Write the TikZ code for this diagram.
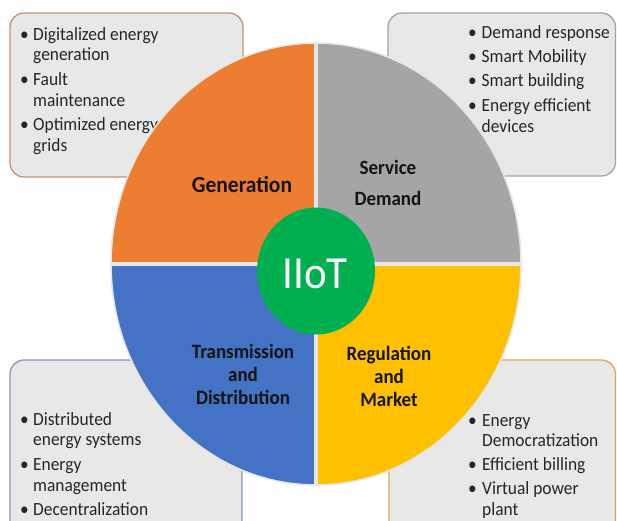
\documentclass[tikz,border=0pt]{standalone}
\usepackage{fontspec}
\setmainfont{Carlito}
\usepackage{array}
\usepackage{graphicx}
\definecolor{qorange}{HTML}{ED7D31}
\definecolor{qgray}{HTML}{A5A5A5}
\definecolor{qyellow}{HTML}{FFC000}
\definecolor{qblue}{HTML}{4472C4}
\definecolor{qgreen}{HTML}{00B050}
\definecolor{boxfill}{HTML}{E8E8E8}
\definecolor{bdorange}{HTML}{C9916B}
\definecolor{bdgray}{HTML}{A3A3A3}
\definecolor{bdblue}{HTML}{8496B5}
\definecolor{bdgold}{HTML}{D6AA4A}
\definecolor{divline}{HTML}{E6E6E6}
\definecolor{labeltext}{HTML}{141414}
\newcommand{\vstretch}[1]{\scalebox{1}[1.07]{#1}}
\begin{document}
\begin{tikzpicture}[x=1pt,y=-1pt,
  infobox/.style={draw, line width=1.3pt, fill=boxfill, rounded corners=14pt},
  quadrant/.style={draw=divline, line width=1.6pt},
  bullettext/.style={anchor=base west, inner sep=0pt, text=black!85,
    font=\fontsize{17.4}{19.6}\selectfont},
  quadlabel/.style={anchor=base, inner sep=0pt, text=labeltext,
    font=\fontsize{19}{21.5}\selectfont\bfseries}]
\useasboundingbox (0,0) rectangle (617,520);
% info boxes (behind the circle)
\draw[infobox, draw=bdorange] (10,13) rectangle (243,177);
\draw[infobox, draw=bdgray] (388,13) rectangle (615.5,176);
\draw[infobox, draw=bdblue] (10,360) rectangle (242,540);
\draw[infobox, draw=bdgold] (389,360) rectangle (615.5,540);
% bullet texts (the circle lies over them)
\node[bullettext] (tltext) at (20,40) {\vstretch{\begin{tabular}[t]{@{}p{13pt}@{}l@{}}
\textbullet & Digitalized energy\\ & generation\\[3pt]
\textbullet & Fault\\ & maintenance\\[3pt]
\textbullet & Optimized energy\\ & grids\end{tabular}}};
\node[bullettext] (trtext) at (468,38) {\vstretch{\begin{tabular}[t]{@{}p{13.5pt}@{}l@{}}
\textbullet & Demand response\\[3.2pt]
\textbullet & Smart Mobility\\[3.2pt]
\textbullet & Smart building\\[3.2pt]
\textbullet & Energy efficient\\ & devices\end{tabular}}};
\node[bullettext] (bltext) at (20,425) {\vstretch{\begin{tabular}[t]{@{}p{13pt}@{}l@{}}
\textbullet & Distributed\\ & energy systems\\[3.2pt]
\textbullet & Energy\\ & management\\[3.2pt]
\textbullet & Decentralization\end{tabular}}};
\node[bullettext] (brtext) at (468,426) {\vstretch{\begin{tabular}[t]{@{}p{14pt}@{}l@{}}
\textbullet & Energy\\ & Democratization\\[2.6pt]
\textbullet & Efficient billing\\[2.6pt]
\textbullet & Virtual power\\ & plant\end{tabular}}};
% circle quadrants
\coordinate (c) at (316,264);
\fill[qorange] (c) -- ++(-205,0) arc[start angle=180, end angle=270, x radius=205, y radius=221] -- cycle;
\fill[qgray] (c) -- ++(0,-221) arc[start angle=270, end angle=360, x radius=205, y radius=221] -- cycle;
\fill[qyellow] (c) -- ++(205,0) arc[start angle=0, end angle=90, x radius=205, y radius=221] -- cycle;
\fill[qblue] (c) -- ++(0,221) arc[start angle=90, end angle=180, x radius=205, y radius=221] -- cycle;
\draw[quadrant] (c) ellipse[x radius=205, y radius=221];
\draw[divline, line width=3.2pt] (c) ++(-205,0) -- ++(410,0);
\draw[divline, line width=3.2pt] (c) ++(0,-221) -- ++(0,442);
% centre
\fill[qgreen] (316,271) ellipse[x radius=59, y radius=63.5];
\node[anchor=base, inner sep=0pt, text=white, font=\fontsize{43}{50}\selectfont] (iiot) at (315,288) {\vstretch{IIoT}};
% quadrant labels
\node[quadlabel, font=\fontsize{21.5}{24}\selectfont\bfseries] (gen) at (242,192) {\vstretch{Generation}};
\node[quadlabel] (serv) at (388,174) {\vstretch{\begin{tabular}[t]{@{}c@{}}Service\\[8pt] Demand\end{tabular}}};
\node[quadlabel] (trans) at (243,358) {\vstretch{\begin{tabular}[t]{@{}c@{}}Transmission\\ and\\ Distribution\end{tabular}}};
\node[quadlabel] (reg) at (389,360) {\vstretch{\begin{tabular}[t]{@{}c@{}}Regulation\\ and\\ Market\end{tabular}}};
\end{tikzpicture}
\end{document}
